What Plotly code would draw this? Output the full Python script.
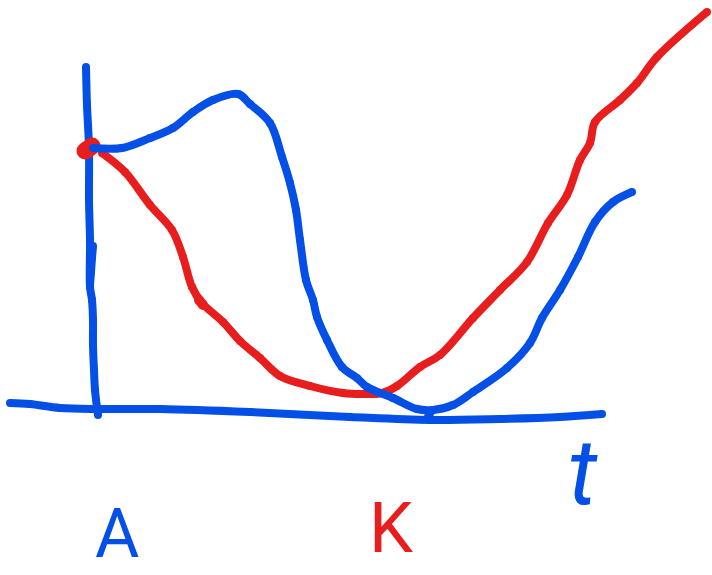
import plotly.graph_objects as go

BLUE = "#0450E6"
RED = "#E81E1E"

vaxis_x = [86, 87, 89, 89, 90, 90, 92, 93, 93, 94, 95, 98]
vaxis_y = [67, 105, 148, 200, 240, 287, 300, 320, 345, 370, 390, 415]
vextra_x = [93, 92, 91, 90]
vextra_y = [246, 258, 272, 285]
haxis_x = [10, 30, 60, 100, 160, 250, 350, 430, 500, 560, 602]
haxis_y = [403, 404, 408, 409, 409, 412, 417, 420, 419, 417, 414]
stub_x = [432, 428]
stub_y = [410, 417]

blue_x = [93, 122, 150, 173, 193, 213, 238, 250, 270, 282, 290, 296, 300, 306, 313, 317, 327, 342, 357, 367, 393, 417, 433, 453, 473, 507, 530, 542, 560, 578, 595, 613, 632]
blue_y = [148, 148, 138, 128, 112, 100, 94, 104, 123, 157, 183, 210, 240, 280, 300, 317, 340, 367, 378, 387, 398, 409, 410, 405, 392, 368, 343, 318, 290, 257, 222, 202, 192]

red_x = [102, 125, 150, 172, 183, 192, 202, 223, 240, 260, 280, 310, 343, 362, 382, 397, 420, 440, 473, 500, 527, 548, 567, 580, 590, 595, 620, 637, 657, 707]
red_y = [153, 172, 205, 230, 257, 287, 303, 322, 341, 358, 376, 386, 393, 394, 393, 386, 367, 355, 318, 290, 262, 223, 195, 160, 143, 122, 100, 83, 57, 12]
blob_x = [85, 88, 92]
blob_y = [151, 149, 146]
blob2_x = [199, 203]
blob2_y = [300, 305]

label_text = ["A", "K", "t"]
label_x = [117, 391, 583]
label_y = [534, 528, 472]
label_size = [68, 70, 92]
label_color = [BLUE, RED, BLUE]
label_fmt = ["{}", "{}", "<i>{}</i>"]

fig = go.Figure()


def stroke(x, y, color, width=8):
    fig.add_trace(go.Scatter(
        x=x, y=y, mode="lines+markers", hoverinfo="skip", cliponaxis=False,
        line=dict(color=color, width=width, shape="spline", smoothing=1.0),
        marker=dict(color=color, size=width),
    ))


stroke(vaxis_x, vaxis_y, BLUE)
stroke(vextra_x, vextra_y, BLUE)
stroke(haxis_x, haxis_y, BLUE)
stroke(stub_x, stub_y, BLUE)
stroke(red_x, red_y, RED)
stroke(blob_x, blob_y, RED, 17)
stroke(blob2_x, blob2_y, RED, 10)
stroke(blue_x, blue_y, BLUE)

for t, x, y, s, c, m in zip(label_text, label_x, label_y, label_size, label_color, label_fmt):
    fig.add_annotation(
        x=x, y=y, text=m.format(t), showarrow=False, xanchor="center", yanchor="middle",
        font=dict(family="Roboto", size=s, color=c),
    )

fig.update_layout(
    width=712, height=575, margin=dict(l=0, r=0, t=0, b=0),
    paper_bgcolor="white", plot_bgcolor="white", showlegend=False,
    xaxis=dict(range=[0, 712], visible=False, fixedrange=True),
    yaxis=dict(range=[575, 0], visible=False, fixedrange=True),
)
fig.write_html("out.html", config={"displayModeBar": False}, include_plotlyjs=True,
               post_script="document.body.style.margin='0';document.body.style.overflow='hidden';")
